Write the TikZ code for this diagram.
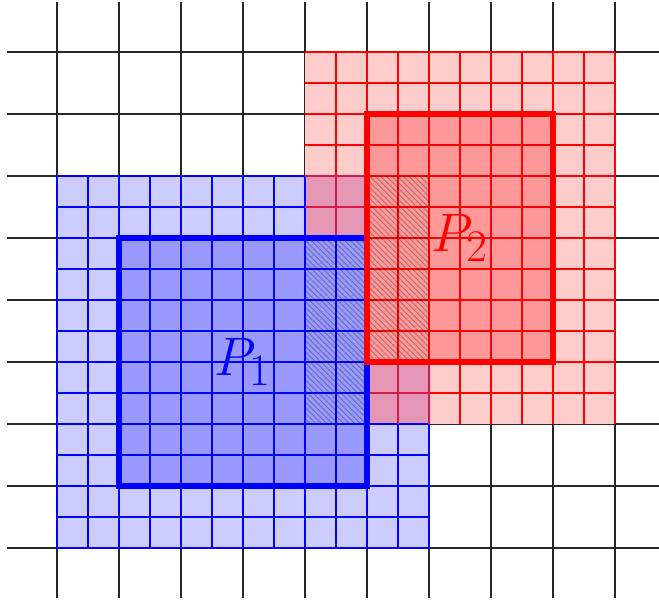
\documentclass[tikz,border=0pt]{standalone}
\definecolor{mauve}{RGB}{227,151,180}
\definecolor{crimson}{RGB}{215,25,75}
\tikzset{
  coarse/.style={black!85, line width=0.6pt},
  bluegrid/.style={blue, line width=0.7pt},
  redgrid/.style={red, line width=0.7pt},
  mixgrid/.style={crimson, line width=0.7pt},
  hatchline/.style={black, draw opacity=0.3, line width=0.4pt},
  border/.style={line width=2.6pt},
  lbl/.style={font=\Huge, inner sep=0pt},
}
\begin{document}
\begin{tikzpicture}
\useasboundingbox (-0.919,-0.855) rectangle (9.710,8.839);
\clip (-0.919,-0.855) rectangle (9.710,8.839);
% coarse grid
\draw[coarse] (-0.8,-0.8) grid (9.8,8.8);
% light regions
\fill[blue!20] (0,0) rectangle (6,6);
\fill[red!20] (4,2) rectangle (9,8);
\fill[mauve] (4,2) rectangle (6,6);
\draw[bluegrid, step=0.5] (0,0) grid (6,6);
\draw[redgrid, step=0.5] (4,2) grid (9,8);
\draw[mixgrid, step=0.5] (4,2) grid (6,6);
% dark squares
\fill[blue!40] (1,1) rectangle (5,5);
\draw[bluegrid, step=0.5] (1,1) grid (5,5);
\fill[red!40] (5,3) rectangle (8,7);
\draw[redgrid, step=0.5] (5,3) grid (8,7);
% hatching
\begin{scope}
\clip (4,2) rectangle (5,5) (5,3) rectangle (6,6);
\foreach \k in {0,...,70} {
  \draw[hatchline] ({\k*0.09-1},7) -- ++(6,-6);
}
\end{scope}
% borders
\draw[border, blue] (1,1) rectangle (5,5);
\draw[border, red] (5,3) rectangle (8,7);
% labels
\node[lbl, text=blue] (p1) at (3,3) {$P_1$};
\node[lbl, text=red] (p2) at (6.5,5) {$P_2$};
\end{tikzpicture}
\end{document}
